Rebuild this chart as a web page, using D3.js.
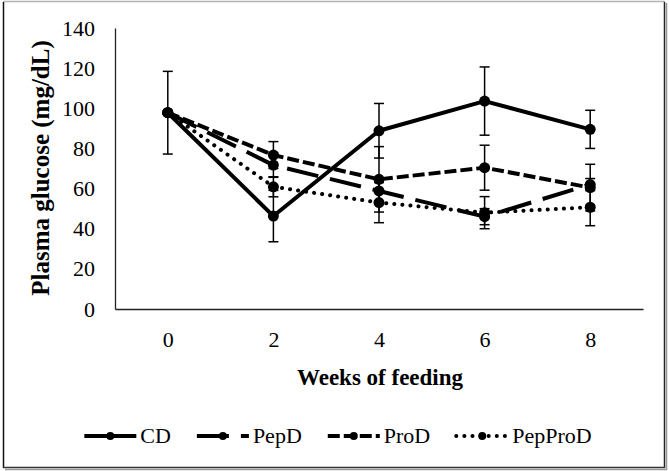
<!DOCTYPE html>
<html>
    <head>
        <meta charset="utf-8">
        <script src="https://d3js.org/d3.v7.min.js"></script>
        <title>Plasma glucose</title>
        <style>
            body {
                margin: 0;
                background: white;
            }
        </style>
    </head>
    <body>
        <div id="my_dataviz"></div>
    <script>
        // data
        var weeks = ["0", "2", "4", "6", "8"];
        var seriesNames = ["CD", "PepD", "ProD", "PepProD"];
        var cd = [97.8, 46.3, 88.8, 103.6, 89.5];
        var cdErr = [20.6, 12.8, 13.6, 17, 9.5];
        var pepD = [97.8, 71.7, 58.8, 46, 62];
        var pepDErr = [0, 6.1, 5, 4, 3];
        var proD = [97.8, 76.7, 64.6, 70.4, 60.5];
        var proDErr = [0, 6.7, 16.3, 11.2, 11.6];
        var pepProD = [97.8, 60.9, 53, 48, 50.7];
        var pepProDErr = [0, 5, 10, 8, 9.2];
        var yTicks = [0, 20, 40, 60, 80, 100, 120, 140];

        var FONT = "'Liberation Serif'";

        // line styles per series
        var dashes = {"CD": null, "PepD": "32,12", "ProD": "12,4", "PepProD": "0.1,8"};
        var caps = {"CD": "butt", "PepD": "butt", "ProD": "butt", "PepProD": "round"};

        var series = [
            {name: "CD", values: cd, err: cdErr},
            {name: "PepD", values: pepD, err: pepDErr},
            {name: "ProD", values: proD, err: proDErr},
            {name: "PepProD", values: pepProD, err: pepProDErr}
        ];

        var W = 669, H = 471;
        var svg = d3.select("#my_dataviz")
            .append("svg")
            .attr("width", W)
            .attr("height", H);

        // frame
        svg.append("line").attr("x1", 3).attr("x2", 665).attr("y1", 1.5).attr("y2", 1.5)
            .attr("stroke", "#b4b4b4").attr("stroke-width", 1.5);
        svg.append("line").attr("x1", 3.5).attr("x2", 3.5).attr("y1", 2).attr("y2", 468)
            .attr("stroke", "#111").attr("stroke-width", 1.5);
        svg.append("line").attr("x1", 664.5).attr("x2", 664.5).attr("y1", 2).attr("y2", 468)
            .attr("stroke", "#222").attr("stroke-width", 1.5);
        svg.append("line").attr("x1", 666.5).attr("x2", 666.5).attr("y1", 3).attr("y2", 470)
            .attr("stroke", "#999").attr("stroke-width", 1.5);
        svg.append("line").attr("x1", 3).attr("x2", 665).attr("y1", 467.5).attr("y2", 467.5)
            .attr("stroke", "#333").attr("stroke-width", 1.5);
        svg.append("line").attr("x1", 5).attr("x2", 667).attr("y1", 469.5).attr("y2", 469.5)
            .attr("stroke", "#999").attr("stroke-width", 1.5);

        // scales
        var x = d3.scalePoint()
            .domain(weeks)
            .range([115, 643])
            .padding(0.5);
        var y = d3.scaleLinear()
            .domain([0, 140])
            .range([309, 28]);

        // axes
        var yAxis = svg.append("g")
            .attr("transform", "translate(115,0)")
            .call(d3.axisLeft(y).tickValues(yTicks).tickSize(0).tickPadding(20));
        var xAxis = svg.append("g")
            .attr("transform", "translate(0,309)")
            .call(d3.axisBottom(x).tickSize(0).tickPadding(22));
        [yAxis, xAxis].forEach(function (a) {
            a.select(".domain").attr("stroke", "#222").attr("stroke-width", 1.3);
            a.selectAll("text")
                .attr("fill", "black")
                .style("font-family", FONT)
                .style("font-size", "22px");
        });

        // axis titles
        svg.append("text")
            .attr("x", 380)
            .attr("y", 385)
            .attr("text-anchor", "middle")
            .style("font-family", FONT)
            .style("font-size", "23px")
            .style("font-weight", "bold")
            .text("Weeks of feeding");

        svg.append("g")
            .attr("transform", "translate(49,168)")
            .append("text")
            .attr("text-anchor", "middle")
            .attr("transform", "rotate(-90)")
            .style("font-family", FONT)
            .style("font-size", "25px")
            .style("font-weight", "bold")
            .text("Plasma glucose (mg/dL)");

        var line = d3.line()
            .x(function (d, i) { return x(weeks[i]); })
            .y(function (d) { return y(d); });

        // lines
        svg.append("g")
            .selectAll("path")
            .data(series)
            .enter()
            .append("path")
            .attr("d", function (s) { return line(s.values); })
            .attr("fill", "none")
            .attr("stroke", "black")
            .attr("stroke-width", 4)
            .attr("stroke-linecap", function (s) { return caps[s.name]; })
            .attr("stroke-linejoin", "round")
            .attr("stroke-dasharray", function (s) { return dashes[s.name]; });

        // error bars
        var errs = [];
        series.forEach(function (s) {
            s.values.forEach(function (v, i) {
                if (s.err[i] > 0) errs.push({wk: weeks[i], v: v, e: s.err[i]});
            });
        });
        var eb = svg.append("g")
            .attr("stroke", "black")
            .attr("stroke-width", 1.5);
        eb.selectAll(".bar")
            .data(errs)
            .enter()
            .append("line")
            .attr("x1", function (d) { return x(d.wk); })
            .attr("x2", function (d) { return x(d.wk); })
            .attr("y1", function (d) { return y(d.v + d.e); })
            .attr("y2", function (d) { return y(d.v - d.e); });
        eb.selectAll(".capTop")
            .data(errs)
            .enter()
            .append("line")
            .attr("x1", function (d) { return x(d.wk) - 5; })
            .attr("x2", function (d) { return x(d.wk) + 5; })
            .attr("y1", function (d) { return y(d.v + d.e); })
            .attr("y2", function (d) { return y(d.v + d.e); });
        eb.selectAll(".capBot")
            .data(errs)
            .enter()
            .append("line")
            .attr("x1", function (d) { return x(d.wk) - 5; })
            .attr("x2", function (d) { return x(d.wk) + 5; })
            .attr("y1", function (d) { return y(d.v - d.e); })
            .attr("y2", function (d) { return y(d.v - d.e); });

        // markers
        series.forEach(function (s) {
            svg.append("g")
                .selectAll("circle")
                .data(s.values)
                .enter()
                .append("circle")
                .attr("cx", function (d, i) { return x(weeks[i]); })
                .attr("cy", function (d) { return y(d); })
                .attr("r", 5.5)
                .attr("fill", "black");
        });

        // legend
        var legend = svg.append("g").attr("transform", "translate(0,436)");
        var lx = 0;
        var sampleW = 52;
        seriesNames.forEach(function (name) {
            var item = legend.append("g").attr("transform", "translate(" + lx + ",0)");
            item.append("line")
                .attr("x1", 0).attr("x2", sampleW)
                .attr("stroke", "black")
                .attr("stroke-width", 4)
                .attr("stroke-linecap", caps[name])
                .attr("stroke-dasharray", dashes[name]);
            item.append("circle")
                .attr("cx", sampleW / 2)
                .attr("r", 4)
                .attr("fill", "black");
            var t = item.append("text")
                .attr("x", sampleW + 4)
                .attr("dy", "0.33em")
                .style("font-family", FONT)
                .style("font-size", "22px")
                .text(name);
            lx += sampleW + 4 + t.node().getComputedTextLength() + 26;
        });
        var legendW = lx - 26;
        legend.attr("transform", "translate(" + (338 - legendW / 2) + ",436)");
    </script>
    </body>
</html>
